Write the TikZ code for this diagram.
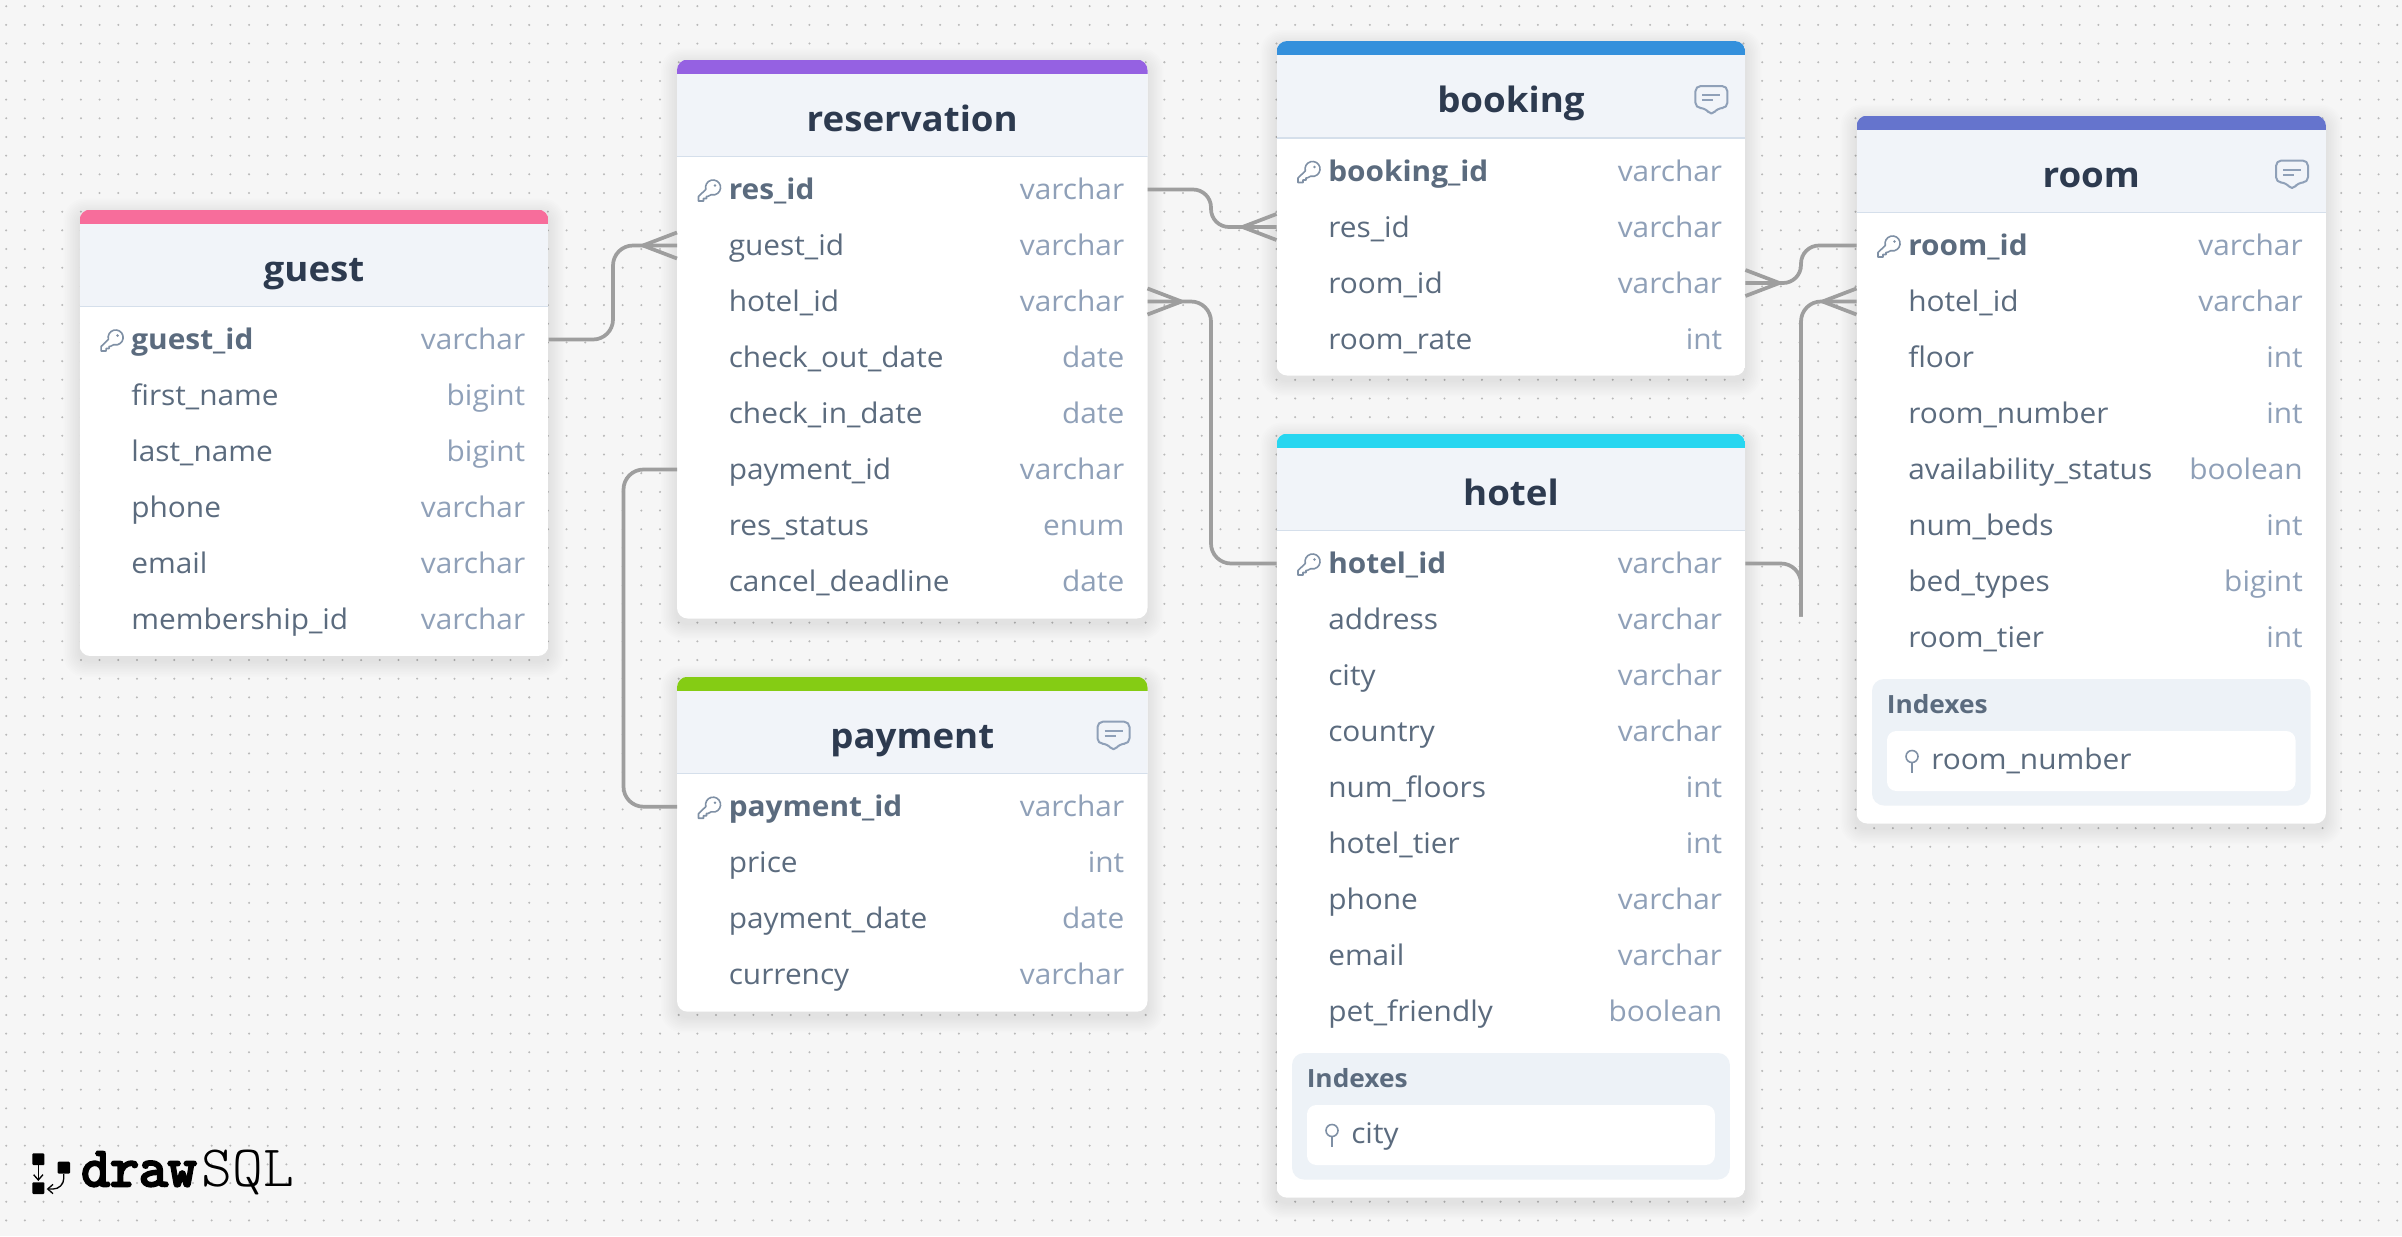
\documentclass[tikz,border=0pt]{standalone}
\usetikzlibrary{arrows.meta}
\usepackage{fontspec}
\setmainfont{Open Sans}[FakeStretch=1.05]
\newfontfamily\logobold[FakeBold=4.5]{Latin Modern Mono}
\newfontfamily\logothin{Latin Modern Mono Light}
\definecolor{bgc}{HTML}{F6F6F6}
\definecolor{dotc}{HTML}{B9B9B9}
\definecolor{titlec}{HTML}{2D3A4F}
\definecolor{namec}{HTML}{5B6B7E}
\definecolor{typec}{HTML}{8FA0B8}
\definecolor{headc}{HTML}{F1F4F9}
\definecolor{linec}{HTML}{D5DFEB}
\definecolor{idxc}{HTML}{EDF2F7}
\definecolor{iconc}{HTML}{7F90A5}
\definecolor{connc}{HTML}{9E9E9E}
\definecolor{cguest}{HTML}{F76D9B}
\definecolor{cres}{HTML}{9561E2}
\definecolor{cbook}{HTML}{3490DC}
\definecolor{chotel}{HTML}{27D6F0}
\definecolor{croom}{HTML}{6574CD}
\definecolor{cpay}{HTML}{85CC14}
\tikzset{
  conn/.style={draw=connc,line width=2.8pt,rounded corners=15pt},
  footline/.style={draw=connc,line width=2.8pt},
  rowbox/.style={inner sep=0pt,outer sep=0pt},
  rowname/.style={inner sep=0pt,anchor=base west,text=namec,font=\fontsize{21.3}{25}\selectfont},
  pkname/.style={inner sep=0pt,anchor=base west,text=namec,font=\fontsize{21.3}{25}\selectfont\bfseries},
  rowtype/.style={inner sep=0pt,anchor=base east,text=typec,font=\fontsize{21.3}{25}\selectfont},
  tabletitle/.style={inner sep=0pt,anchor=base,text=titlec,font=\fontsize{26.2}{32}\selectfont\bfseries},
  idxtitle/.style={inner sep=0pt,anchor=base west,text=namec,font=\fontsize{18.8}{22}\selectfont\bfseries},
  iconline/.style={draw=iconc,line width=1.2pt},
}
% name, L, R, T, bottom, colour, title, rows
\newcommand{\dbtable}[8]{%
  \foreach \k in {1,...,10}{
    \fill[black,opacity=.0095,rounded corners=8pt+\k*.8pt] (#2-\k*1.6,#4-\k*1.6+5) rectangle (#3+\k*1.6,#5+\k*1.6+5);
  }
  \begin{scope}
    \clip[rounded corners=8pt] (#2,#4) rectangle (#3,#5);
    \fill[white] (#2,#4) rectangle (#3,#5);
    \fill[headc] (#2,#4) rectangle (#3,#4+96);
    \fill[linec] (#2,#4+96) rectangle (#3,#4+97.5);
    \fill[#6] (#2,#4) rectangle (#3,#4+14);
  \end{scope}
  \node[tabletitle] (#1-title) at ({(#2+#3)/2},#4+71.5) {#7};
  \pgfmathsetmacro\rw{(#3-#2)*0.75}
  \foreach \n/\t [count=\i] in {#8}{
    \pgfmathsetmacro\ry{#4+130+56*(\i-1)}
    \node[rowbox,minimum width=\rw pt,minimum height=42pt] (#1-r\i) at ({(#2+#3)/2},\ry) {};
    \ifnum\i=1
      \node[pkname] (#1-n\i) at (#2+51.5,\ry+10) {\n};
      \begin{scope}[shift={(#2+33,\ry)},y=0.75pt]
        \draw[iconline,line join=round] (-4.2,0.1) arc[start angle=195,end angle=-105,radius=7.5]
          -- (-2,-6.8) -- (-3.5,-6.8) -- (-3.5,-9) -- (-6.5,-9) -- (-6.5,-11.5) -- (-11.5,-11.5) -- (-11.5,-7) -- cycle;
        \fill[iconc] (5,4) circle (1.4);
      \end{scope}
    \else
      \node[rowname] (#1-n\i) at (#2+51.5,\ry+10) {\n};
    \fi
    \node[rowtype] (#1-t\i) at (#3-23,\ry+10) {\t};
  }
}
% name, L, R, box top, text
\newcommand{\idxbox}[5]{%
  \fill[idxc,rounded corners=9pt] (#2+15.5,#4) rectangle (#3-15.5,#4+126.5);
  \fill[white,rounded corners=7pt] (#2+30.5,#4+52) rectangle (#3-30.5,#4+112);
  \node[idxtitle] (#1-idx) at (#2+30,#4+34) {Indexes};
  \node[rowname] (#1-idxn) at (#2+74.5,#4+90) {#5};
  \draw[iconline] (#2+55.5,#4+77.5) circle (6);
  \draw[iconline] (#2+55.5,#4+83.5) -- (#2+55.5,#4+94);
}
% R, T
\newcommand{\cmticon}[2]{%
  \draw[draw=typec,line width=1.5pt,line join=round,rounded corners=4pt]
    (#1-50,#2+45) -- (#1-18,#2+45) -- (#1-18,#2+67) -- (#1-28,#2+67) -- (#1-34,#2+75) -- (#1-40,#2+67) -- (#1-50,#2+67) -- cycle;
  \draw[draw=typec,line width=1.5pt] (#1-43,#2+54) -- (#1-25,#2+54);
  \draw[draw=typec,line width=1.5pt] (#1-43,#2+59) -- (#1-32,#2+59);
}
\newcommand{\crowL}[1]{%
  \draw[footline] ([shift={(-34,0)}]#1.west) -- ([shift={(0,-13)}]#1.west);
  \draw[footline] ([shift={(-34,0)}]#1.west) -- ([shift={(0,13)}]#1.west);
}
\newcommand{\crowR}[1]{%
  \draw[footline] ([shift={(34,0)}]#1.east) -- ([shift={(0,-13)}]#1.east);
  \draw[footline] ([shift={(34,0)}]#1.east) -- ([shift={(0,13)}]#1.east);
}
\begin{document}
\begin{tikzpicture}[x=0.75pt,y=-0.75pt]
\useasboundingbox (0,0) rectangle (2402,1236);
\fill[bgc] (0,0) rectangle (2402,1236);
\foreach \j in {0,...,66}{
  \draw[dotc,line width=1.7pt,line cap=round,dash pattern=on 0pt off 14.01pt] (6.2,6.2+18.68*\j) -- (2402,6.2+18.68*\j);
}

\dbtable{guest}{79.6}{548.5}{209.5}{656}{cguest}{guest}{guest\_id/varchar,first\_name/bigint,last\_name/bigint,phone/varchar,email/varchar,membership\_id/varchar}
\dbtable{res}{677}{1147.5}{59.5}{618.5}{cres}{reservation}{res\_id/varchar,guest\_id/varchar,hotel\_id/varchar,check\_out\_date/date,check\_in\_date/date,payment\_id/varchar,res\_status/enum,cancel\_deadline/date}
\dbtable{pay}{677}{1147.5}{676.7}{1011.7}{cpay}{payment}{payment\_id/varchar,price/int,payment\_date/date,currency/varchar}
\dbtable{book}{1276.5}{1745.4}{41}{375.5}{cbook}{booking}{booking\_id/varchar,res\_id/varchar,room\_id/varchar,room\_rate/int}
\dbtable{hotel}{1276.5}{1745.4}{433.5}{1197.7}{chotel}{hotel}{hotel\_id/varchar,address/varchar,city/varchar,country/varchar,num\_floors/int,hotel\_tier/int,phone/varchar,email/varchar,pet\_friendly/boolean}
\dbtable{room}{1856.5}{2326}{115.5}{823.5}{croom}{room}{room\_id/varchar,hotel\_id/varchar,floor/int,room\_number/int,availability\_status/boolean,num\_beds/int,bed\_types/bigint,room\_tier/int}
\idxbox{hotel}{1276.5}{1745.4}{1053}{city}
\idxbox{room}{1856.5}{2326}{679}{room\_number}
\cmticon{1147.5}{676.7}
\cmticon{1745.4}{41}
\cmticon{2326}{115.5}

\coordinate (ch1) at (613,0);
\coordinate (ch2) at (623.5,0);
\coordinate (ch3) at (1211,0);
\coordinate (ch4) at (1801,0);
\coordinate (tail) at (1801,616.7);

\draw[conn] (guest-r1.east) -- (ch1 |- guest-r1.east) -- (ch1 |- res-r2.west) -- (res-r2.west);
\crowL{res-r2}
\draw[conn] (res-r6.west) -- (ch2 |- res-r6.west) -- (ch2 |- pay-r1.west) -- (pay-r1.west);
\draw[conn,rounded corners=13.5pt] (res-r1.east) -- (ch3 |- res-r1.east) -- (ch3 |- book-r2.west) -- (book-r2.west);
\crowL{book-r2}
\draw[conn] (hotel-r1.west) -- (ch3 |- hotel-r1.west) -- (ch3 |- res-r3.east) -- (res-r3.east);
\crowR{res-r3}
\draw[conn,rounded corners=13.5pt] (room-r1.west) -- (ch4 |- room-r1.west) -- (ch4 |- book-r3.east) -- (book-r3.east);
\crowR{book-r3}
\draw[conn] (hotel-r1.east) -- (ch4 |- hotel-r1.east) -- (tail);
\draw[conn] (room-r2.west) -- (ch4 |- room-r2.west) -- (tail);
\crowL{room-r2}

% logo
\fill[black,rounded corners=.8pt] (32.3,1153.3) rectangle (44.3,1165);
\fill[black,rounded corners=.8pt] (32.3,1182.3) rectangle (44.3,1194);
\fill[black,rounded corners=.8pt] (57.7,1161.7) rectangle (70,1173.7);
\draw[black,line width=1pt,-{Straight Barb[length=4pt,width=7pt]}] (38.3,1165) -- (38.3,1181);
\draw[black,line width=1pt,rounded corners=8pt,-{Straight Barb[length=4pt,width=7pt]}] (63.8,1174) -- (63.8,1189) -- (46.7,1189);
\node[inner sep=0pt,anchor=base west,text=black,font=\logobold\fontsize{42}{42}\selectfont] (logo1) at (81,1186) {draw};
\node[inner sep=0pt,anchor=base west,text=black,font=\logothin\fontsize{44}{44}\selectfont] (logo2) at (201.5,1186) {SQL};
\end{tikzpicture}
\end{document}
